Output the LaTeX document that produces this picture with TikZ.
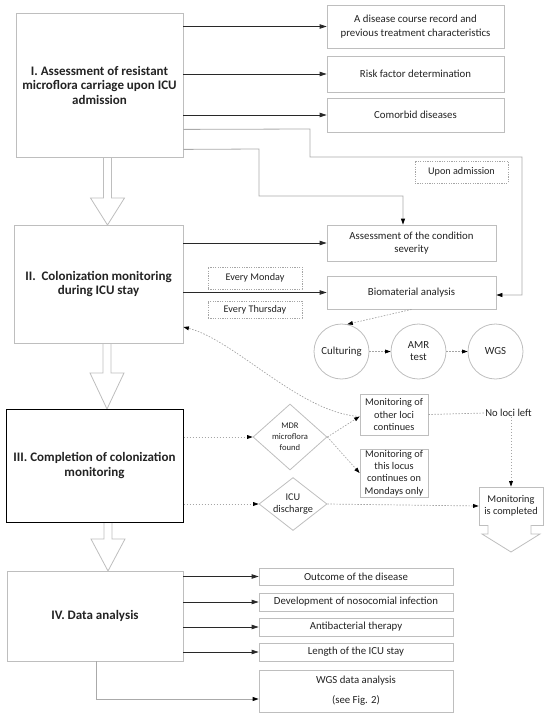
\documentclass[tikz,border=0pt]{standalone}
\usepackage{fontspec}
\setmainfont{Carlito}
\usetikzlibrary{arrows.meta,calc,shapes.geometric}
\definecolor{boxgray}{RGB}{190,190,190}
\definecolor{linegray}{RGB}{170,170,170}
\definecolor{dashgray}{RGB}{165,165,165}
\definecolor{darkline}{RGB}{40,40,40}
\definecolor{txt}{RGB}{35,35,35}
\newcommand\hollowdown[4]{%
  \draw[hollow] (#1-4,#2) -- (#1-4,#3) -- (#1-17,#3) -- (#1,#4) -- (#1+17,#3) -- (#1+4,#3) -- (#1+4,#2);}
\begin{document}
\begin{tikzpicture}[x=1pt,y=-1pt,
  box/.style={draw=boxgray, line width=0.8pt, fill=white, inner sep=1pt, align=center,
    text=txt, font=\fontsize{10.8}{13.5}\selectfont},
  mainbox/.style={box, font=\bfseries\fontsize{13}{14.5}\selectfont},
  tagbox/.style={draw=dashgray, dash pattern=on 1.2pt off 1.2pt, line width=0.6pt,
    inner sep=0pt, text=txt, font=\fontsize{10.2}{11}\selectfont},
  smallbox/.style={box, font=\fontsize{10.3}{12.3}\selectfont},
  circ/.style={circle, draw=boxgray, line width=0.8pt, minimum size=55pt, inner sep=0pt,
    align=center, text=txt, font=\fontsize{10.8}{12}\selectfont},
  dia/.style={diamond, draw=boxgray, line width=0.8pt, inner sep=0pt},
  diatext/.style={align=center, text=txt},
  arr/.style={draw=darkline, line width=0.8pt, -{Triangle[length=7pt,width=4.5pt]}},
  garr/.style={draw=linegray, line width=0.8pt},
  gtip/.style={-{Triangle[length=6pt,width=4pt,color=black]}},
  darr/.style={draw=dashgray, line width=0.7pt, dash pattern=on 1.5pt off 1.5pt,
    -{Triangle[length=5.5pt,width=3.8pt,color=black]}},
  dline/.style={draw=dashgray, line width=0.7pt, dash pattern=on 1.5pt off 1.5pt},
  hollow/.style={draw=boxgray, line width=0.8pt, fill=white, line join=miter}
]
\useasboundingbox (0,0) rectangle (550,718);

% hollow arrows between stages
\hollowdown{107.5}{157}{198}{225}
\hollowdown{107}{343}{373}{409}
\hollowdown{108}{522}{539}{571}

% main stage boxes
\node[mainbox, minimum width=167pt, minimum height=144pt] (i) at (99.5,85)
  {I. Assessment of resistant\\microflora carriage upon ICU\\admission};
\node[mainbox, minimum width=169pt, minimum height=118pt] (ii) at (98.5,284)
  {\\[-5pt]II.\ \ Colonization monitoring\\during ICU stay};
\node[mainbox, draw=black, line width=1pt, minimum width=177pt, minimum height=113pt] (iii) at (94.5,465.5)
  {III. Completion of colonization\\monitoring};
\node[mainbox, minimum width=176pt, minimum height=90pt] (iv) at (95,616)
  {IV. Data analysis};

% stage I results
\node[box, minimum width=177pt, minimum height=43pt] (a) at (415.5,26.5)
  {A disease course record and\\previous treatment characteristics};
\node[box, minimum width=177pt, minimum height=36pt] (risk) at (415.5,74) {Risk factor determination};
\node[box, minimum width=177pt, minimum height=34pt] (como) at (415.5,115) {Comorbid diseases};
\node[tagbox, minimum width=93pt, minimum height=22pt] (upon) at (461.5,172) {Upon admission};

% stage II
\node[box, minimum width=169pt, minimum height=36pt] (sev) at (411.5,243)
  {Assessment of the condition\\severity};
\node[box, minimum width=169pt, minimum height=33pt] (bio) at (411.5,292.5) {Biomaterial analysis};
\node[tagbox, minimum width=94pt, minimum height=22pt] (mon) at (255,278) {Every Monday};
\node[tagbox, minimum width=94pt, minimum height=17pt] (thu) at (255,309.5) {Every Thursday};
\node[circ] (cult) at (341.5,351.5) {Culturing};
\node[circ] (amr) at (418.5,351.5) {AMR\\test};
\node[circ] (wgs) at (495.5,351.5) {WGS};

% stage III
\node[dia, minimum width=74pt, minimum height=66pt,
  label={[diatext, font=\fontsize{8.6}{11}\selectfont]center:{MDR\\microflora\\found}}] (mdr) at (290,437) {};
\node[dia, minimum width=68pt, minimum height=53pt,
  label={[diatext, font=\fontsize{10.3}{12.3}\selectfont]center:{ICU\\discharge}}] (icu) at (293,504) {};
\node[smallbox, minimum width=68pt, minimum height=41pt] (other) at (394,414.5)
  {Monitoring of\\other loci\\continues};
\node[smallbox, minimum width=68pt, minimum height=48pt] (this) at (394,473)
  {Monitoring of\\this locus\\continues on\\Mondays only};
\node[text=txt, inner sep=0pt, font=\fontsize{10.6}{11}\selectfont] (noloci) at (508.5,413) {No loci left};
\node[smallbox, minimum width=64pt, minimum height=38pt] (done) at (511,506)
  {Monitoring\\is completed};
\draw[hollow] (488,525) -- (488,534) -- (482,534) -- (511,552) -- (540,534) -- (531,534) -- (531,525);

% stage IV results
\node[box, minimum width=194pt, minimum height=17pt] (out) at (356,576.5) {Outcome of the disease};
\node[box, minimum width=194pt, minimum height=18pt] (dev) at (356,602) {Development of nosocomial infection};
\node[box, minimum width=194pt, minimum height=18pt] (anti) at (356,627) {Antibacterial therapy};
\node[box, minimum width=194pt, minimum height=18pt] (len) at (356,652) {Length of the ICU stay};
\node[box, minimum width=194pt, minimum height=42pt, font=\fontsize{10.8}{20}\selectfont] (wgsd) at (356,691)
  {WGS data analysis\\(see Fig. 2)};

% solid connectors
\draw[arr] (i.east |- a.west) -- (a.west);
\draw[arr] (i.east |- risk.west) -- (risk.west);
\draw[arr] (i.east |- como.west) -- (como.west);
\draw[arr] (ii.east |- sev.west) -- (sev.west);
\draw[arr] (ii.east |- bio.west) -- (bio.west);
\draw[arr] (iv.east |- out.west) -- (out.west);
\draw[arr] (iv.east |- dev.west) -- (dev.west);
\draw[arr] (iv.east |- anti.west) -- (anti.west);
\draw[arr] (iv.east |- len.west) -- (len.west);
\draw[garr, gtip] ([xshift=1pt]iv.south) |- (wgsd.west |- 0,699);

% grey routing lines from stage I
\draw[garr, gtip] ([yshift=28pt]i.south east) -- (310,129) -- (310,157) -- (522,157) |- ([yshift=-2.5pt]bio.east);
\draw[garr, gtip] ([yshift=8pt]i.south east) -- (259,149) -- (259,196) -| (sev.north -| 403,0);

% dashed connectors
\draw[darr] (bio.south) -- (cult.78);
\draw[darr] (cult.east) -- (amr.west);
\draw[darr] (amr.east) -- (wgs.west);
\draw[darr] (iii.east |- mdr.west) -- (mdr.west);
\draw[darr] (iii.east |- icu.west) -- (icu.west);
\draw[darr] (mdr.east) -- ([yshift=-2pt]other.west);
\draw[darr] (mdr.east) -- (this.west);
\draw[darr] ([yshift=-2pt]other.west) .. controls (300,413) and (235,340) .. ([yshift=-43pt]ii.east);
\draw[dline] (other.east) -- (noloci.west);
\draw[darr] (done.north |- noloci.south) -- (done.north);
\draw[darr] (icu.east) -- (done.west);
\end{tikzpicture}
\end{document}
